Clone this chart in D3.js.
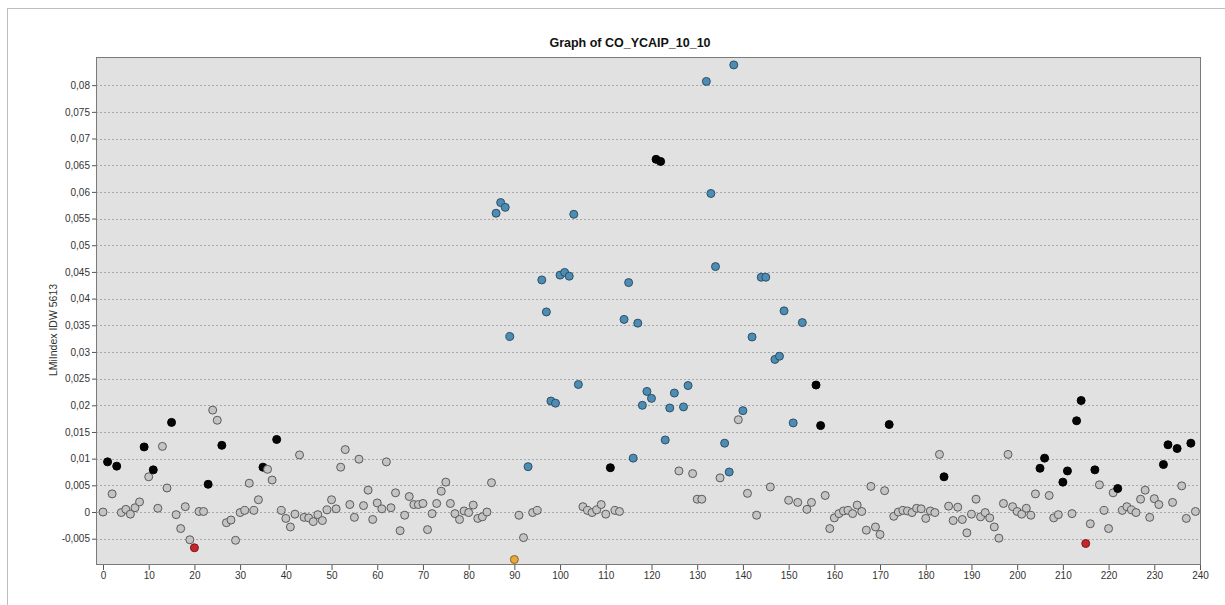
<!DOCTYPE html>
<html>
<head>
<meta charset="utf-8">
<script src="https://cdn.jsdelivr.net/npm/d3@7/dist/d3.min.js"></script>
<style>
  html, body { margin: 0; padding: 0; background: #ffffff; }
  svg { display: block; font-family: "Liberation Sans", Arial, sans-serif; }
</style>
</head>
<body>
<svg id="chart" width="1225" height="605"></svg>
<script>
const title = "Graph of CO_YCAIP_10_10";
const yTitle = "LMiIndex IDW 5613";

// LMiIndex values for observations 0..239
const values = [
  0, 0.0094, 0.0034, 0.0086, -0.0001, 0.0005, -0.0004, 0.0008, 0.0019, 0.0122,
  0.0066, 0.0079, 0.0007, 0.0123, 0.0045, 0.0168, -0.0005, -0.0031, 0.0010, -0.0052,
  -0.0067, 0.0001, 0.0001, 0.0052, 0.0191, 0.0172, 0.0125, -0.0020, -0.0015, -0.0053,
  -0.0001, 0.0003, 0.0054, 0.0003, 0.0023, 0.0084, 0.0080, 0.0060, 0.0136, 0.0003,
  -0.0012, -0.0028, -0.0004, 0.0107, -0.0010, -0.0011, -0.0018, -0.0005, -0.0016, 0.0004,
  0.0023, 0.0006, 0.0084, 0.0117, 0.0014, -0.0010, 0.0099, 0.0012, 0.0041, -0.0014,
  0.0017, 0.0006, 0.0094, 0.0008, 0.0036, -0.0035, -0.0006, 0.0029, 0.0014, 0.0014,
  0.0016, -0.0033, -0.0003, 0.0016, 0.0039, 0.0056, 0.0016, -0.0003, -0.0014, 0.0002,
  -0.0001, 0.0013, -0.0012, -0.0009, 0, 0.0055, 0.0560, 0.0580, 0.0571, 0.0329,
  -0.0089, -0.0006, -0.0048, 0.0085, -0.0001, 0.0003, 0.0435, 0.0375, 0.0208, 0.0204,
  0.0444, 0.0449, 0.0442, 0.0558, 0.0239, 0.0010, 0.0003, -0.0001, 0.0004, 0.0014,
  -0.0004, 0.0083, 0.0003, 0.0001, 0.0361, 0.0430, 0.0101, 0.0354, 0.0200, 0.0226,
  0.0213, 0.0661, 0.0657, 0.0135, 0.0195, 0.0223, 0.0077, 0.0197, 0.0237, 0.0072,
  0.0024, 0.0024, 0.0807, 0.0597, 0.0460, 0.0064, 0.0129, 0.0075, 0.0838, 0.0173,
  0.0190, 0.0035, 0.0328, -0.0006, 0.0440, 0.0440, 0.0047, 0.0286, 0.0292, 0.0377,
  0.0022, 0.0167, 0.0018, 0.0355, 0.0005, 0.0018, 0.0238, 0.0162, 0.0031, -0.0031,
  -0.0011, -0.0003, 0.0002, 0.0003, -0.0003, 0.0013, 0.0001, -0.0034, 0.0048, -0.0028,
  -0.0042, 0.0040, 0.0164, -0.0008, 0, 0.0003, 0.0002, -0.0001, 0.0007, 0.0006,
  -0.0012, 0.0002, -0.0001, 0.0108, 0.0066, 0.0011, -0.0016, 0.0009, -0.0014, -0.0039,
  -0.0004, 0.0024, -0.0009, -0.0001, -0.0011, -0.0028, -0.0049, 0.0016, 0.0108, 0.0010,
  0.0001, -0.0004, 0.0007, -0.0006, 0.0034, 0.0082, 0.0101, 0.0031, -0.0011, -0.0005,
  0.0056, 0.0077, -0.0003, 0.0171, 0.0209, -0.0059, -0.0022, 0.0079, 0.0051, 0.0003,
  -0.0031, 0.0036, 0.0044, 0.0003, 0.0010, 0.0004, -0.0001, 0.0024, 0.0041, -0.0010,
  0.0025, 0.0014, 0.0089, 0.0126, 0.0018, 0.0119, 0.0049, -0.0012, 0.0129, 0.0001
];

// cluster classes by observation index
const blackIdx = [1, 3, 9, 11, 15, 23, 26, 35, 38, 111, 121, 122, 156, 157, 172, 184,
  205, 206, 210, 211, 213, 214, 217, 222, 232, 233, 235, 238];
const blueIdx = [86, 87, 88, 89, 93, 96, 97, 98, 99, 100, 101, 102, 103, 104, 114, 115,
  116, 117, 118, 119, 120, 123, 124, 125, 127, 128, 132, 133, 134, 136, 137, 138, 140,
  142, 144, 145, 147, 148, 149, 151, 153];
const redIdx = [20, 215];
const orangeIdx = [90];

const xTicks = d3.range(0, 241, 10);
const yTicks = [-0.005, 0, 0.005, 0.01, 0.015, 0.02, 0.025, 0.03, 0.035, 0.04, 0.045,
  0.05, 0.055, 0.06, 0.065, 0.07, 0.075, 0.08];

const svg = d3.select("#chart");

// outer frame
svg.append("rect").attr("x", 7.5).attr("y", 8.5).attr("width", 1230).attr("height", 610)
  .attr("fill", "none").attr("stroke", "#bdbdbd");

const plot = { left: 96, right: 1201, top: 57, bottom: 565 };

const x = d3.scaleLinear().domain([-1.53, 240.22]).range([plot.left, plot.right]);
const y = d3.scaleLinear().domain([-0.00993, 0.08528]).range([plot.bottom, plot.top]);

// plot background
svg.append("rect")
  .attr("x", plot.left).attr("y", plot.top)
  .attr("width", plot.right - plot.left).attr("height", plot.bottom - plot.top)
  .attr("fill", "#e1e1e1");

// gridlines
svg.append("g").selectAll("line").data(yTicks).join("line")
  .attr("x1", plot.left).attr("x2", plot.right)
  .attr("y1", d => Math.round(y(d)) + 0.5).attr("y2", d => Math.round(y(d)) + 0.5)
  .attr("stroke", "#a8a8a8").attr("stroke-width", 1).attr("stroke-dasharray", "2,2");

// frame
svg.append("rect")
  .attr("x", plot.left + 0.5).attr("y", plot.top + 0.5)
  .attr("width", plot.right - plot.left - 1).attr("height", plot.bottom - plot.top - 1)
  .attr("fill", "none").attr("stroke", "#7a7a7a");

const fmt = v => d3.format("")(+v.toFixed(3)).replace(".", ",").replace("−", "-");

// y axis
const yAxis = svg.append("g").attr("transform", `translate(${plot.left},0)`)
  .call(d3.axisLeft(y).tickValues(yTicks).tickSize(4).tickPadding(2)
    .tickFormat(d => d === 0 ? "0" : fmt(d)));
yAxis.select(".domain").remove();
yAxis.selectAll("line").attr("stroke", "#555");
yAxis.selectAll("text").attr("fill", "#333").style("font-size", "10px")
  .style("font-family", "'Liberation Sans', Arial, sans-serif");

// x axis
const xAxis = svg.append("g").attr("transform", `translate(0,${plot.bottom})`)
  .call(d3.axisBottom(x).tickValues(xTicks).tickSize(5).tickPadding(2).tickFormat(d3.format("d")));
xAxis.select(".domain").remove();
xAxis.selectAll("line").attr("stroke", "#555");
xAxis.selectAll("text").attr("fill", "#333").style("font-size", "10px")
  .style("font-family", "'Liberation Sans', Arial, sans-serif");

// titles
svg.append("text").attr("x", 630).attr("y", 47).attr("text-anchor", "middle")
  .style("font-size", "12.5px").style("font-weight", "bold").attr("fill", "#111").text(title);

svg.append("text").attr("transform", "translate(57,330) rotate(-90)")
  .attr("text-anchor", "middle").style("font-size", "10.5px").attr("fill", "#333").text(yTitle);

// points
const cls = i => blackIdx.includes(i) ? "black" : blueIdx.includes(i) ? "blue"
  : redIdx.includes(i) ? "red" : orangeIdx.includes(i) ? "orange" : "gray";
const fills = { gray: "#c4c4c4", black: "#050505", blue: "#4d8db4", red: "#c4262b", orange: "#e6a93a" };
const strokes = { gray: "#5a5a5a", black: "#000000", blue: "#2d4f66", red: "#7a1a1a", orange: "#8a6420" };

const pts = values.map((v, i) => ({ i, v, c: cls(i) }));
svg.append("g").selectAll("circle").data(pts).join("circle")
  .attr("cx", d => x(d.i)).attr("cy", d => y(d.v)).attr("r", 4)
  .attr("fill", d => fills[d.c]).attr("stroke", d => strokes[d.c]).attr("stroke-width", 1);
</script>
</body>
</html>
